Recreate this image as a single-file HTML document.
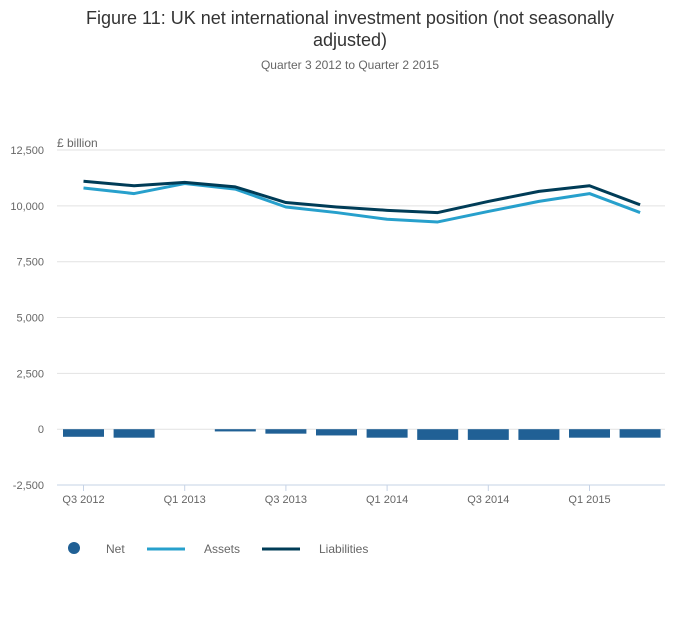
<!DOCTYPE html>
<html><head><meta charset="utf-8"><style>
body{margin:0;background:#fff;font-family:"Liberation Sans",sans-serif;}
</style></head><body>
<svg width="700" height="635" font-family="Liberation Sans, sans-serif">
<text x="350" y="24" text-anchor="middle" font-size="18" fill="#333">Figure 11: UK net international investment position (not seasonally</text>
<text x="350" y="46" text-anchor="middle" font-size="18" fill="#333">adjusted)</text>
<text x="350" y="69" text-anchor="middle" font-size="12" fill="#666">Quarter 3 2012 to Quarter 2 2015</text>
<text x="57" y="147" font-size="12" fill="#666">£ billion</text>
<g id="grid"></g><g id="bars"></g><g id="lines"></g><g id="xaxis"></g>
<g>
<circle cx="74" cy="548" r="6" fill="#206095"/>
<text x="106" y="553" font-size="12" fill="#666">Net</text>
<line x1="147" y1="549" x2="185" y2="549" stroke="#27a0cc" stroke-width="3"/>
<text x="204" y="553" font-size="12" fill="#666">Assets</text>
<line x1="262" y1="549" x2="300" y2="549" stroke="#003c57" stroke-width="3"/>
<text x="319" y="553" font-size="12" fill="#666">Liabilities</text>
</g>
</svg>
<script>
const categories=["Q3 2012","Q4 2012","Q1 2013","Q2 2013","Q3 2013","Q4 2013","Q1 2014","Q2 2014","Q3 2014","Q4 2014","Q1 2015","Q2 2015"];
const assets=[10800,10550,11000,10750,9950,9700,9400,9280,9750,10200,10550,9700];
const liabilities=[11100,10900,11050,10850,10150,9950,9800,9700,10200,10650,10900,10050];
const net=[-340,-380,0,-100,-200,-280,-380,-480,-480,-480,-380,-380];
const yTicks=[12500,10000,7500,5000,2500,0,-2500];
const yTickLabels=["12,500","10,000","7,500","5,000","2,500","0","-2,500"];
const xLabelIdx=[0,2,4,6,8,10];
const NS="http://www.w3.org/2000/svg";
function y(v){return 429.2-v*0.022333;}
function x(i){return 83.5+i*50.6;}
function mk(tag,attrs,parent){const e=document.createElementNS(NS,tag);for(const k in attrs)e.setAttribute(k,attrs[k]);document.getElementById(parent).appendChild(e);return e;}
yTicks.forEach((t,i)=>{
 if(t!==-2500){const l=mk('line',{x1:57,x2:665,y1:y(t),y2:y(t),stroke:'#e2e2e2','stroke-width':1},'grid');
 
 }
 const tx=mk('text',{x:44,y:y(t)+4,'text-anchor':'end','font-size':11,fill:'#666'},'grid');tx.textContent=yTickLabels[i];
 
 
});
const ax=mk('line',{x1:57,x2:665,y1:485,y2:485,stroke:'#c6d3e6','stroke-width':1},'xaxis');


xLabelIdx.forEach(i=>{
 const tk=mk('line',{x1:x(i),x2:x(i),y1:485,y2:491,stroke:'#c6d3e6'},'xaxis');
 
 
 const tx=mk('text',{x:x(i),y:503,'text-anchor':'middle','font-size':11,fill:'#666'},'xaxis');tx.textContent=categories[i];
 
 
});
net.forEach((v,i)=>{
 const top=Math.min(y(0),y(v)),h=Math.abs(y(v)-y(0));
 const b=mk('rect',{x:x(i)-20.5,y:top,width:41,height:h,fill:'#206095'},'bars');
 
 
});
[[assets,'#27a0cc','line-assets'],[liabilities,'#003c57','line-liabilities']].forEach(([d,c,n])=>{
 const p=mk('polyline',{points:d.map((v,i)=>x(i)+','+y(v)).join(' '),fill:'none',stroke:c,'stroke-width':3,'stroke-linejoin':'round'},'lines');
 
 
});
</script>
</body></html>
